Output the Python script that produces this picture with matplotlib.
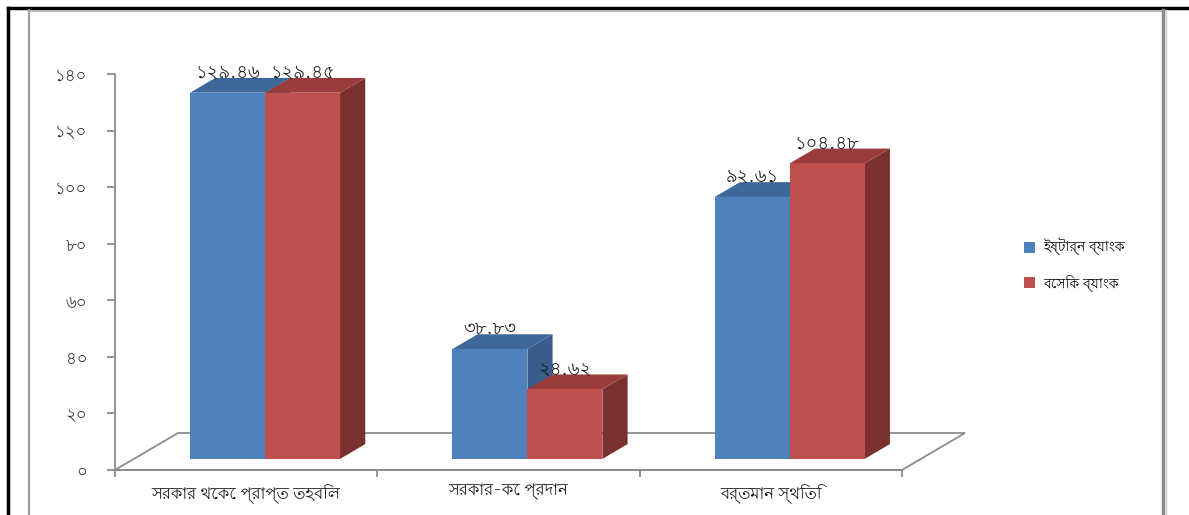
import matplotlib
matplotlib.use("Agg")
import matplotlib.pyplot as plt
from matplotlib import font_manager
from matplotlib.ft2font import FT2Font
from matplotlib.patches import Polygon, Patch
from matplotlib.lines import Line2D

# ---------------- data ----------------
categories = ["সরকার থেকে প্রাপ্ত তহবিল", "সরকার-কে প্রদান", "বর্তমান স্থিতি"]
series_names = ["ইষ্টার্ন ব্যাংক", "বেসিক ব্যাংক"]
eastern_values = [129.46, 38.83, 92.61]
basic_values = [129.45, 24.62, 104.48]
y_ticks = [0, 20, 40, 60, 80, 100, 120, 140]

# ---------------- font with Bengali glyphs (prefer proportional) ----------------
cands = []
seen = set()
for fe in font_manager.fontManager.ttflist:
    if fe.fname in seen:
        continue
    seen.add(fe.fname)
    try:
        cmap = FT2Font(fe.fname).get_charmap()
    except Exception:
        continue
    if 0x0995 in cmap and 0x09E6 in cmap:
        cands.append(fe)

def rank(fe):
    nm = fe.name.lower()
    r = 0
    if "mono" in nm:
        r += 10
    if "bengali" in nm or "bangla" in nm:
        r -= 5
    if fe.weight not in (400, "normal", "regular"):
        r += 2
    if fe.style != "normal":
        r += 2
    return r

cands.sort(key=rank)
beng_font = cands[0].name if cands else None
families = ([beng_font] if beng_font else []) + ["DejaVu Sans"]
plt.rcParams["font.family"] = families

BN = str.maketrans("0123456789", "০১২৩৪৫৬৭৮৯")
def bn(s):
    return str(s).translate(BN)

# ---------------- geometry ----------------
W, H = 1189, 515
fig = plt.figure(figsize=(W / 100, H / 100), dpi=100)
CAT_PX = (902 - 115) / 3.0          # pixels per category
VAL_PX = (470 - 74) / 140.0         # pixels per value unit
DEPTH_X = 63 / CAT_PX               # floor depth offset (category units)
DEPTH_Y = 37 / VAL_PX               # floor depth offset (value units)
BAR_W = 75 / CAT_PX
GAP = 1 - 2 * BAR_W
D0, D1 = 0.3, 0.7                   # bar depth range (fraction of floor depth)

xmax = 3 + DEPTH_X
ax = fig.add_axes([115 / W, (H - 470) / H, xmax * CAT_PX / W, (470 - 74) / H])
ax.set_xlim(0, xmax)
ax.set_ylim(0, 140)

grey = "#8c8c8c"
n = len(categories)
ax.plot([0, n, n + DEPTH_X, DEPTH_X, 0], [0, 0, DEPTH_Y, DEPTH_Y, 0],
        color=grey, lw=1.3, zorder=1, clip_on=False, solid_joinstyle="miter")

colors = [
    {"front": "#4f81bd", "top": "#3d6899", "side": "#385d8a"},
    {"front": "#c0504d", "top": "#9a3d3a", "side": "#7a302e"},
]
all_vals = [eastern_values, basic_values]

z = 2
for i in range(n):
    for j, vals in enumerate(all_vals):
        v = vals[i]
        c = colors[j]
        x0 = i + GAP / 2 + j * BAR_W + D0 * DEPTH_X
        x1 = x0 + BAR_W
        b = D0 * DEPTH_Y
        t = b + v
        ddx = (D1 - D0) * DEPTH_X
        ddy = (D1 - D0) * DEPTH_Y
        front = Polygon([(x0, b), (x1, b), (x1, t), (x0, t)], closed=True,
                        facecolor=c["front"], edgecolor="none", zorder=z)
        top = Polygon([(x0, t), (x1, t), (x1 + ddx, t + ddy), (x0 + ddx, t + ddy)],
                      closed=True, facecolor=c["top"], edgecolor="none", zorder=z)
        side = Polygon([(x1, b), (x1 + ddx, b + ddy), (x1 + ddx, t + ddy), (x1, t)],
                       closed=True, facecolor=c["side"], edgecolor="none", zorder=z)
        for p in (side, top, front):
            p.set_clip_on(False)
            ax.add_patch(p)
        z += 1
        ax.text((x0 + x1) / 2, t + 20 / VAL_PX, bn(f"{v:.2f}"), ha="center",
                va="center", fontsize=13, color="#1a1a1a", zorder=20, clip_on=False)

for s in ("top", "right"):
    ax.spines[s].set_visible(False)
ax.spines["left"].set_color(grey)
ax.spines["left"].set_linewidth(1.3)
ax.spines["bottom"].set_color(grey)
ax.spines["bottom"].set_linewidth(1.3)
ax.spines["bottom"].set_bounds(0, n)
ax.set_yticks(y_ticks)
ax.set_yticklabels([bn(t) for t in y_ticks])
ax.tick_params(axis="y", direction="out", length=6, width=1.3, color=grey,
               pad=14, labelsize=12, labelcolor="#333333")
ax.set_xticks(range(n + 1))
ax.set_xticklabels([])
ax.tick_params(axis="x", which="major", direction="out", length=5, width=1.3, color=grey)
ax.set_xticks([i + 0.5 for i in range(n)], minor=True)
ax.set_xticklabels(categories, minor=True)
ax.tick_params(axis="x", which="minor", length=0, pad=10, labelsize=11.8, labelcolor="#111111")
ax.patch.set_visible(False)

handles = [Patch(facecolor=colors[k]["front"], edgecolor="none") for k in range(2)]
fig.legend(handles, series_names, loc="center left",
           bbox_to_anchor=(1011 / W, 1 - 265 / H), frameon=False,
           handlelength=0.8, handleheight=0.8, handletextpad=0.6,
           labelspacing=1.3, fontsize=10)

def fl(xs, ys, **kw):
    fig.add_artist(Line2D([x / W for x in xs], [1 - y / H for y in ys], **kw))

fl([8, 8], [8, 515], color="black", lw=2.5)
fl([8, 1189], [8, 8], color="black", lw=2.5)
fl([29, 29], [10, 515], color="#9a9a9a", lw=1.5)
fl([29, 1163], [10.5, 10.5], color="#b0b0b0", lw=1.2)
fl([1163, 1163], [10, 515], color="#8a8a8a", lw=2.5)
fl([1166, 1166], [10, 515], color="#d0d0d0", lw=1)

fig.savefig("out.png", dpi=100)
